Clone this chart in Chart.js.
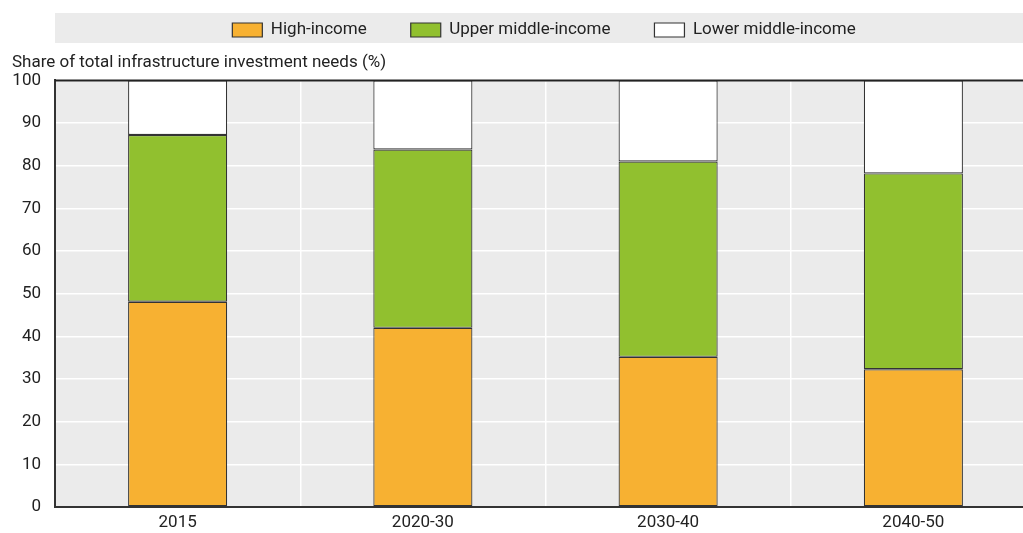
<!DOCTYPE html>
<html>
<head>
<meta charset="utf-8">
<script src="https://cdn.jsdelivr.net/npm/chart.js@4.4.0/dist/chart.umd.min.js"></script>
<style>
  html, body { margin: 0; background: #fff; overflow: hidden; }
  #wrap { width: 1036px; height: 533px; }
</style>
</head>
<body>
<div id="wrap"><canvas id="chart"></canvas></div>
<script>
// Données
const periodes = ['2015', '2020-30', '2030-40', '2040-50'];
const highIncome = [48.1, 42.0, 35.2, 32.3];
const upperMiddle = [39.1, 41.8, 45.8, 45.9];
const lowerMiddle = [12.8, 16.2, 19.0, 21.8];
const seriesNames = ['High-income', 'Upper middle-income', 'Lower middle-income'];
const yTitle = 'Share of total infrastructure investment needs (%)';

const FONT = "Roboto, sans-serif";
Chart.defaults.font.family = FONT;
Chart.defaults.color = '#222';

const LEG_PAD = 44;
const VISIBLE_W = 1023;
let bande = null;

// fond gris de la zone de tracé + bande de légende + bordure haute
const fond = {
  id: 'fond',
  afterLayout(chart) {
    const lg = chart.legend;
    const ca = chart.chartArea;
    if (lg) {
      bande = { top: lg.top, bottom: lg.bottom };
      lg.left = ca.left + 2;
      lg.right = VISIBLE_W + 8;
      // remonter la légende pour que le texte soit centré dans la bande
      lg.top = (lg.top + lg.bottom) / 2 - 6.5 - LEG_PAD;
    }
    if (chart.titleBlock) chart.titleBlock.left = 12;
  },
  beforeDraw(chart) {
    const { ctx, chartArea: ca } = chart;
    ctx.save();
    ctx.fillStyle = '#ebebeb';
    ctx.fillRect(ca.left, ca.top, ca.right - ca.left, ca.bottom - ca.top);
    if (bande) ctx.fillRect(ca.left, bande.top, chart.width - ca.left, bande.bottom - bande.top);
    ctx.restore();
  },
  afterDatasetsDraw(chart) {
    const { ctx, chartArea: ca } = chart;
    ctx.save();
    ctx.strokeStyle = '#222';
    ctx.lineWidth = 2;
    ctx.beginPath();
    ctx.moveTo(ca.left, ca.top);
    ctx.lineTo(ca.right, ca.top);
    ctx.stroke();
    ctx.restore();
  }
};

new Chart(document.getElementById('chart'), {
  type: 'bar',
  data: {
    labels: periodes,
    datasets: [
      { label: seriesNames[0], data: highIncome, backgroundColor: '#f7b132' },
      { label: seriesNames[1], data: upperMiddle, backgroundColor: '#91c02f' },
      { label: seriesNames[2], data: lowerMiddle, backgroundColor: '#ffffff' }
    ].map(d => Object.assign(d, {
      borderColor: '#333', borderWidth: 1.2, borderSkipped: false,
      categoryPercentage: 1, barPercentage: 0.404
    }))
  },
  options: {
    responsive: true,
    maintainAspectRatio: false,
    animation: false,
    layout: { padding: { top: 13, left: 0, right: 0, bottom: 0 } },
    plugins: {
      legend: {
        position: 'top',
        maxHeight: 30,
        labels: { boxWidth: 30, boxHeight: 14, padding: LEG_PAD, font: { size: 17 }, color: '#222' },
        onClick: null
      },
      title: {
        display: true,
        text: yTitle,
        align: 'start',
        weight: 500,
        font: { size: 17, weight: 'normal' },
        color: '#222',
        padding: { top: 10, bottom: 7 }
      },
      tooltip: { enabled: false }
    },
    scales: {
      x: {
        stacked: true,
        grid: { offset: true, color: '#ffffff', lineWidth: 1.5, drawTicks: false },
        border: { display: true, color: '#333', width: 2 },
        ticks: { font: { size: 17 }, padding: 6, color: '#222' },
        afterFit(scale) { scale.height = 26; }
      },
      y: {
        stacked: true,
        min: 0, max: 100,
        grid: { color: '#ffffff', lineWidth: 1.5, drawTicks: false },
        border: { display: true, color: '#333', width: 2 },
        ticks: { stepSize: 10, font: { size: 17 }, padding: 14, color: '#222' },
        afterFit(scale) { scale.width = 55; }
      }
    }
  },
  plugins: [fond]
});
</script>
</body>
</html>
